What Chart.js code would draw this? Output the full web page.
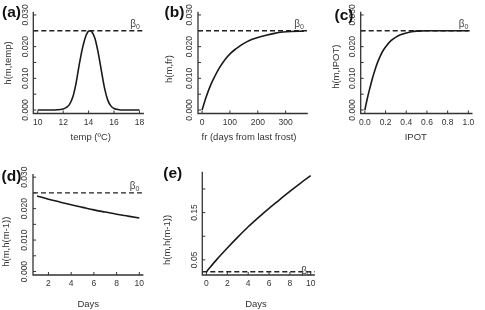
<!DOCTYPE html>
<html>
<head>
<meta charset="utf-8">
<script src="https://cdn.jsdelivr.net/npm/chart.js@4.4.1/dist/chart.umd.min.js"></script>
<style>
  html, body { margin: 0; padding: 0; background: #fff; }
  #wrap { position: relative; width: 485px; height: 310px; }
  #wrap canvas { position: absolute; left: 0; top: 0; }
</style>
</head>
<body>
<div id="wrap">
  <canvas id="pa" width="485" height="310"></canvas>
  <canvas id="pb" width="485" height="310"></canvas>
  <canvas id="pc" width="485" height="310"></canvas>
  <canvas id="pd" width="485" height="310"></canvas>
  <canvas id="pe" width="485" height="310"></canvas>
</div>
<script>
const beta0 = 0.025;

// (a) temperature
const tempC = [10, 11, 12, 12.25, 12.5, 12.75, 13, 13.25, 13.5, 13.75, 14, 14.1, 14.25, 14.5, 14.75, 15, 15.25, 15.5, 15.75, 16, 16.25, 16.5, 17, 18];
const hTemp = [0, 0, 0.0003, 0.0008, 0.0018, 0.0040, 0.0082, 0.0140, 0.0192, 0.0230, 0.0249, 0.0250, 0.0247, 0.0226, 0.0182, 0.0125, 0.0070, 0.0032, 0.0013, 0.0005, 0.0002, 0, 0, 0];

// (b) days from last frost
const frostDays = [0, 15, 30, 45, 60, 75, 90, 105, 120, 140, 160, 180, 200, 230, 260, 290, 320, 365];
const hFrost = [0, 0.0042, 0.0077, 0.0105, 0.0130, 0.0150, 0.0167, 0.0181, 0.0192, 0.0205, 0.0215, 0.0223, 0.0229, 0.0236, 0.0242, 0.0246, 0.0248, 0.0249];

// (c) IPOT
const ipot = [0, 0.025, 0.05, 0.075, 0.1, 0.125, 0.15, 0.175, 0.2, 0.25, 0.3, 0.35, 0.4, 0.45, 0.5, 0.6, 0.8, 1.0];
const hIpot = [0, 0.0038, 0.0071, 0.0102, 0.0129, 0.0152, 0.0171, 0.0187, 0.0199, 0.0218, 0.0230, 0.0238, 0.0243, 0.0247, 0.0249, 0.0250, 0.0250, 0.0250];

// (d) previous-day hazard
const daysD = [1, 2, 3, 4, 5, 6, 7, 8, 9, 10];
const hPrevD = [0.0240, 0.0230, 0.0221, 0.0212, 0.0204, 0.0196, 0.0189, 0.0182, 0.0176, 0.0170];

// (e)
const daysE = [0, 1, 2, 3, 4, 5, 6, 7, 8, 9, 10];
const hPrevE = [0.025, 0.051, 0.075, 0.098, 0.120, 0.140, 0.159, 0.177, 0.195, 0.212, 0.228];

// ticks
const hTickVals = [0, 0.005, 0.010, 0.015, 0.020, 0.025, 0.030];
const hTickLabels = ['0.000', '', '0.010', '', '0.020', '', '0.030'];
const tempTicks = [10, 12, 14, 16, 18];
const frostTicks = [0, 100, 200, 300];
const ipotTicks = [0, 0.2, 0.4, 0.6, 0.8, 1.0];
const ipotTickLabels = ['0.0', '0.2', '0.4', '0.6', '0.8', '1.0'];
const daysTicksD = [2, 4, 6, 8, 10];
const daysTicksE = [0, 2, 4, 6, 8, 10];
const hTickValsE = [0.05, 0.10, 0.15, 0.20];
const hTickLabelsE = ['0.05', '', '0.15', ''];

const FONT = '"Liberation Sans", Arial, sans-serif';

// draws the R-style axes, labels and the beta0 reference line
const rAxes = {
  id: 'rAxes',
  beforeDatasetsDraw(chart, args, o) {
    const { ctx, chartArea: a, scales: { y } } = chart;
    const yp = y.getPixelForValue(beta0);
    ctx.save();
    ctx.setLineDash([5, 3]);
    ctx.lineWidth = 1.4;
    ctx.strokeStyle = '#222';
    ctx.beginPath();
    ctx.moveTo(a.left, yp);
    ctx.lineTo(a.right, yp);
    ctx.stroke();
    ctx.restore();
  },
  afterDraw(chart, args, o) {
    const { ctx, chartArea: a, scales: { x, y } } = chart;
    ctx.save();
    ctx.strokeStyle = '#333';
    ctx.lineWidth = 1.3;
    ctx.beginPath();
    ctx.moveTo(a.left, a.top);
    ctx.lineTo(a.left, a.bottom);
    ctx.lineTo(a.right, a.bottom);
    ctx.stroke();

    // inward ticks
    ctx.lineWidth = 1;
    ctx.beginPath();
    o.xTicks.forEach(v => {
      const px = x.getPixelForValue(v);
      ctx.moveTo(px, a.bottom);
      ctx.lineTo(px, a.bottom - 3);
    });
    o.yTicks.forEach(v => {
      const py = y.getPixelForValue(v);
      ctx.moveTo(a.left, py);
      ctx.lineTo(a.left + 3, py);
    });
    ctx.stroke();

    ctx.fillStyle = '#333';
    ctx.textAlign = 'center';
    ctx.textBaseline = 'middle';
    ctx.font = '8.5px ' + FONT;
    o.xTicks.forEach((v, i) => ctx.fillText(o.xLabels[i], x.getPixelForValue(v), a.bottom + 9));
    o.yTicks.forEach((v, i) => {
      if (!o.yLabels[i]) return;
      ctx.save();
      ctx.translate(a.left - 8, y.getPixelForValue(v));
      ctx.rotate(-Math.PI / 2);
      ctx.fillText(o.yLabels[i], 0, 0);
      ctx.restore();
    });

    // axis titles
    ctx.font = '9.5px ' + FONT;
    ctx.fillText(o.xTitle, o.xTitlePos[0], o.xTitlePos[1]);
    ctx.save();
    ctx.translate(o.yTitlePos[0], o.yTitlePos[1]);
    ctx.rotate(-Math.PI / 2);
    ctx.fillText(o.yTitle, 0, 0);
    ctx.restore();

    // panel letter
    ctx.fillStyle = '#111';
    ctx.textAlign = 'left';
    ctx.font = 'bold 15.5px ' + FONT;
    ctx.fillText(o.letter, o.letterPos[0], o.letterPos[1]);

    // beta0 label
    const yp = y.getPixelForValue(beta0) + o.betaDy;
    ctx.fillStyle = '#444';
    ctx.textAlign = 'right';
    ctx.textBaseline = 'alphabetic';
    ctx.font = '7px ' + FONT;
    const r = a.right - 4;
    ctx.fillText('0', r, yp + 2);
    const w0 = ctx.measureText('0').width;
    ctx.font = '10px ' + FONT;
    ctx.fillText('β', r - w0, yp);
    ctx.restore();
  }
};

const panels = [
  { id: 'pa', xs: tempC, ys: hTemp, xMin: 9.65, xMax: 18.35, yMin: -0.0011, yMax: 0.031,
    area: [33.3, 11.8, 143.9, 113.5],
    opts: { letter: '(a)', letterPos: [2, 13], xTicks: tempTicks, xLabels: tempTicks.map(String),
      yTicks: hTickVals, yLabels: hTickLabels, xTitle: 'temp (ºC)', yTitle: 'h(m,temp)',
      xTitlePos: [90.8, 137], yTitlePos: [8.3, 63], betaDy: -3.5 } },
  { id: 'pb', xs: frostDays, ys: hFrost, xMin: -14.6, xMax: 379.6, yMin: -0.0011, yMax: 0.031,
    area: [198, 11.8, 307.8, 113.5],
    opts: { letter: '(b)', letterPos: [164.5, 12.5], xTicks: frostTicks, xLabels: frostTicks.map(String),
      yTicks: hTickVals, yLabels: hTickLabels, xTitle: 'fr (days from last frost)', yTitle: 'h(m,fr)',
      xTitlePos: [249, 137], yTitlePos: [169.3, 69], betaDy: -3.5 } },
  { id: 'pc', xs: ipot, ys: hIpot, xMin: -0.04, xMax: 1.04, yMin: -0.0011, yMax: 0.031,
    area: [360.7, 11.8, 472.5, 113.5],
    opts: { letter: '(c)', letterPos: [334.5, 15.5], xTicks: ipotTicks, xLabels: ipotTickLabels,
      yTicks: hTickVals, yLabels: hTickLabels, xTitle: 'IPOT', yTitle: 'h(m,IPOT)',
      xTitlePos: [415.8, 137], yTitlePos: [336.7, 66.7], betaDy: -3.5 } },
  { id: 'pd', xs: daysD, ys: hPrevD, xMin: 0.64, xMax: 10.36, yMin: -0.0011, yMax: 0.031,
    area: [33, 174, 143.4, 275],
    opts: { letter: '(d)', letterPos: [1.5, 176.7], xTicks: daysTicksD, xLabels: daysTicksD.map(String),
      yTicks: hTickVals, yLabels: hTickLabels, xTitle: 'Days', yTitle: 'h(m,h(m-1))',
      xTitlePos: [88.3, 304], yTitlePos: [6.5, 241.7], betaDy: -3.5 } },
  { id: 'pe', xs: daysE, ys: hPrevE, xMin: -0.4, xMax: 10.4, yMin: 0.018, yMax: 0.2365,
    area: [202.3, 171.7, 314.9, 275],
    opts: { letter: '(e)', letterPos: [163.3, 174], xTicks: daysTicksE, xLabels: daysTicksE.map(String),
      yTicks: hTickValsE, yLabels: hTickLabelsE, xTitle: 'Days', yTitle: 'h(m,h(m-1))',
      xTitlePos: [256, 304], yTitlePos: [167.5, 240], betaDy: 2.5 } }
];

panels.forEach(p => {
  const [l, t, r, b] = p.area;
  new Chart(document.getElementById(p.id), {
    type: 'line',
    data: {
      datasets: [{
        data: p.xs.map((x, i) => ({ x: x, y: p.ys[i] })),
        borderColor: '#1a1a1a',
        borderWidth: 1.6,
        pointRadius: 0,
        fill: false,
        cubicInterpolationMode: 'monotone'
      }]
    },
    options: {
      responsive: false,
      animation: false,
      events: [],
      layout: { padding: { left: l, top: t, right: 485 - r, bottom: 310 - b } },
      plugins: {
        legend: { display: false },
        tooltip: { enabled: false },
        rAxes: p.opts
      },
      scales: {
        x: { type: 'linear', display: false, min: p.xMin, max: p.xMax },
        y: { type: 'linear', display: false, min: p.yMin, max: p.yMax }
      }
    },
    plugins: [rAxes]
  });
});
</script>
</body>
</html>
